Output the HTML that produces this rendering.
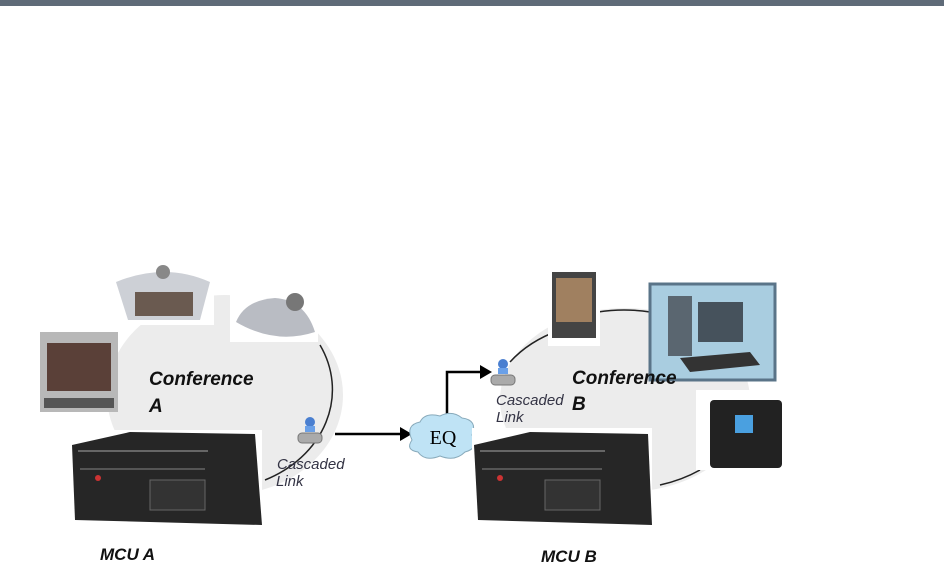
<!DOCTYPE html>
<html><head><style>
html,body{margin:0;padding:0;background:#fff;width:944px;height:582px;overflow:hidden}
text{font-family:"Liberation Sans",sans-serif}
</style></head><body>
<svg width="944" height="582" viewBox="0 0 944 582" xmlns="http://www.w3.org/2000/svg">
<rect x="0" y="0" width="944" height="6" fill="#5f6b78"/>
<ellipse cx="225" cy="395" rx="118" ry="100" fill="#ececec"/>
<path d="M320 345 A118 100 0 0 1 265 480" fill="none" stroke="#222" stroke-width="1.5"/>
<ellipse cx="625" cy="400" rx="125" ry="92" fill="#ececec"/>
<path d="M510 362 A125 92 0 0 1 560 330" fill="none" stroke="#222" stroke-width="1.5"/>
<path d="M598 312 A125 92 0 0 1 650 312" fill="none" stroke="#222" stroke-width="1.5"/>
<path d="M700 470 A125 92 0 0 1 660 485" fill="none" stroke="#222" stroke-width="1.5"/>
<rect x="40" y="332" width="78" height="80" fill="#b8b8b8"/>
<rect x="47" y="343" width="64" height="48" fill="#5a4038"/>
<rect x="44" y="398" width="70" height="10" fill="#555"/>
<rect x="112" y="265" width="102" height="60" fill="#fff"/>
<path d="M116 282 Q165 262 210 282 L200 320 L128 320 Z" fill="#cdd0d6"/>
<rect x="135" y="292" width="58" height="24" fill="#6a5a50"/>
<circle cx="163" cy="272" r="7" fill="#888"/>
<rect x="230" y="290" width="88" height="52" fill="#fff"/>
<path d="M236 322 Q245 300 275 298 Q305 300 315 332 Q275 345 236 322 Z" fill="#b9bcc3"/>
<circle cx="295" cy="302" r="9" fill="#777"/>
<rect x="70" y="430" width="192" height="102" fill="#fff"/>
<path d="M72 445 L130 432 L255 434 L262 525 L75 520 Z" fill="#262626"/>
<rect x="78" y="450" width="130" height="2" fill="#666"/>
<rect x="80" y="468" width="125" height="2" fill="#555"/>
<rect x="150" y="480" width="55" height="30" fill="#333" stroke="#666"/>
<circle cx="98" cy="478" r="3" fill="#c33"/>
<line x1="335" y1="434" x2="402" y2="434" stroke="#000" stroke-width="2.5"/>
<polygon points="400,427 412,434 400,441" fill="#000"/>
<polyline points="447,418 447,372 482,372" fill="none" stroke="#000" stroke-width="2.5"/>
<polygon points="480,365 492,372 480,379" fill="#000"/>
<path d="M412 440 Q405 425 420 422 Q425 412 440 416 Q452 410 462 418 Q478 420 472 435 Q480 448 465 452 Q455 462 440 456 Q425 462 418 452 Q405 450 412 440 Z" fill="#bfe3f5" stroke="#8ab" stroke-width="1"/>
<text x="443" y="444" font-size="20" text-anchor="middle" fill="#000" style="font-family:'Liberation Serif',serif">EQ</text>
<g transform="translate(310,430)">
<circle cx="0" cy="-8" r="5" fill="#4a7fd0"/><rect x="-5" y="-4" width="10" height="6" fill="#6aa0e8"/>
<rect x="-12" y="3" width="24" height="10" rx="4" fill="#aaa" stroke="#777"/>
</g>
<g transform="translate(503,372)">
<circle cx="0" cy="-8" r="5" fill="#4a7fd0"/><rect x="-5" y="-4" width="10" height="6" fill="#6aa0e8"/>
<rect x="-12" y="3" width="24" height="10" rx="4" fill="#aaa" stroke="#777"/>
</g>
<rect x="548" y="268" width="52" height="78" fill="#fff"/>
<rect x="552" y="272" width="44" height="66" fill="#444"/>
<rect x="556" y="278" width="36" height="44" fill="#a08060"/>
<rect x="650" y="284" width="125" height="96" fill="#a9cde0" stroke="#5a7488" stroke-width="3"/>
<rect x="668" y="296" width="24" height="60" fill="#5a6670"/>
<rect x="698" y="302" width="45" height="40" fill="#46525c"/>
<path d="M680 358 L750 352 L760 365 L690 372 Z" fill="#333"/>
<rect x="696" y="390" width="90" height="80" fill="#fff"/>
<rect x="710" y="400" width="72" height="68" rx="4" fill="#222"/>
<rect x="735" y="415" width="18" height="18" fill="#4aa0e0"/>
<rect x="472" y="428" width="180" height="104" fill="#fff"/>
<path d="M474 445 L530 432 L648 434 L652 525 L478 520 Z" fill="#262626"/>
<rect x="480" y="450" width="125" height="2" fill="#666"/>
<rect x="482" y="468" width="120" height="2" fill="#555"/>
<rect x="545" y="480" width="55" height="30" fill="#333" stroke="#666"/>
<circle cx="500" cy="478" r="3" fill="#c33"/>
<g font-style="italic" font-weight="bold" fill="#111">
<text x="149" y="385" font-size="19">Conference</text>
<text x="149" y="412" font-size="19">A</text>
<text x="572" y="384" font-size="19">Conference</text>
<text x="572" y="410" font-size="19">B</text>
<text x="100" y="560" font-size="17">MCU A</text>
<text x="541" y="562" font-size="17">MCU B</text>
</g>
<g font-style="italic" fill="#334" font-size="15">
<text x="277" y="469">Cascaded</text>
<text x="276" y="486">Link</text>
<text x="496" y="405">Cascaded</text>
<text x="496" y="422">Link</text>
</g>
</svg>
</body></html>
